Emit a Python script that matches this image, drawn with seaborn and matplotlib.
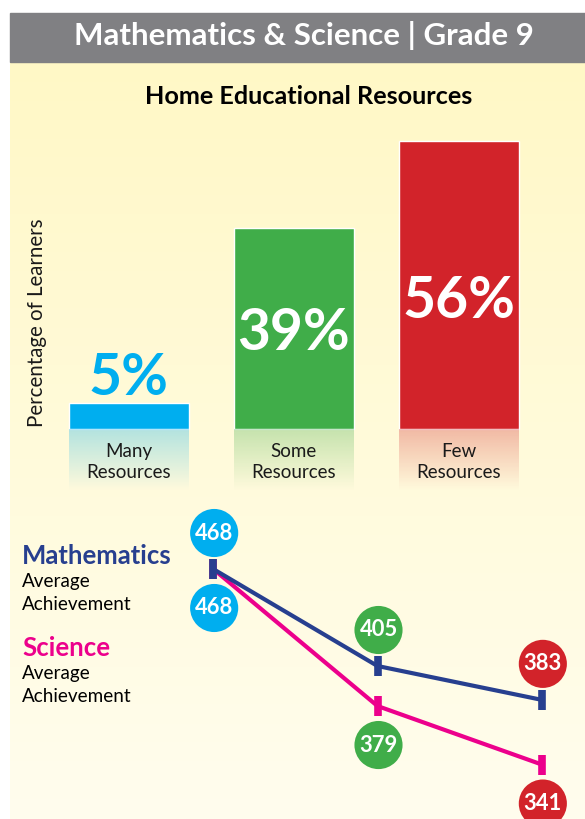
import numpy as np
import seaborn as sns
import matplotlib.pyplot as plt
from matplotlib.patches import Rectangle
from matplotlib.transforms import offset_copy

# data
categories = ["Many\nResources", "Some\nResources", "Few\nResources"]
pct = [5, 39, 56]
math_avg = [468, 405, 383]
sci_avg = [468, 379, 341]

blue, green, red = "#00AEEF", "#40AD49", "#D2232A"
navy, magenta = "#273F8F", "#EC008C"
bar_colors = [blue, green, red]

sns.set_theme(style="white")
plt.rcParams["font.family"] = ["Lato", "DejaVu Sans"]

W, H = 585, 819
fig = plt.figure(figsize=(W / 100, H / 100), dpi=100)
fig.patch.set_facecolor("white")


def box(l, t, r, b):
    return [l / W, 1 - b / H, (r - l) / W, (b - t) / H]


# yellow background with a soft vertical fade
bg = fig.add_axes(box(10, 62, W, H), zorder=-10)
top_c = np.array([255, 248, 198]) / 255
bot_c = np.array([255, 253, 238]) / 255
t = np.linspace(0, 1, 256)[:, None]
grad = top_c[None, :] * (1 - t[..., None]) + bot_c[None, :] * t[..., None]
grad = np.repeat(grad, 2, axis=1)
bg.imshow(grad, aspect="auto", extent=(0, 1, 0, 1))
bg.set_axis_off()

# grey header
fig.patches.append(Rectangle((10 / W, 1 - 62 / H), 575 / W, 49 / H,
                             transform=fig.transFigure, color="#808083", zorder=-5))
fig.text(304 / W, 1 - 36 / H, "Mathematics & Science | Grade 9", color="white",
         fontsize=22.5, fontweight="bold", ha="center", va="center")
fig.text(309 / W, 1 - 97 / H, "Home Educational Resources", color="black",
         fontsize=18.2, fontweight="bold", ha="center", va="center")

# ---- bar chart ----
px_per_pct = 288 / 56
ax1 = fig.add_axes(box(46, 429 - 60 * px_per_pct, 541, 429 + 12 * px_per_pct))
ax1.patch.set_alpha(0)
bw = 120 / 165
sns.barplot(x=list(range(3)), y=pct, hue=list(range(3)), palette=bar_colors,
            legend=False, width=bw, saturation=1, ax=ax1, native_scale=True)

for i, c in enumerate(bar_colors):
    rgba = np.zeros((64, 2, 4))
    rgba[..., :3] = plt.matplotlib.colors.to_rgb(c)
    rgba[..., 3] = np.linspace(0.3, 0.0, 64)[:, None]
    ax1.imshow(rgba, extent=(i - bw / 2, i + bw / 2, -12, 0), aspect="auto", zorder=1)
    ax1.text(i, -6.4, categories[i], ha="center", va="center", fontsize=13.5,
             color="#1a1a1a", linespacing=1.3)

pct_offsets = [25, -105, -160]
pct_colors = [blue, "white", "white"]
for i, v in enumerate(pct):
    ax1.annotate(f"{v}%", (i, v), xytext=(0, pct_offsets[i] * 0.72), textcoords="offset points",
                 ha="center", va="center", fontsize=41, fontweight="bold", color=pct_colors[i])

ax1.set_xlim(-0.5, 2.5)
ax1.set_ylim(-12, 60)
ax1.set_axis_off()
fig.text(37 / W, 1 - 323 / H, "Percentage of Learners", rotation=90, ha="center",
         va="center", fontsize=14.8, color="#1a1a1a")

# ---- achievement lines ----
px_per_pt = 97 / 63
ax2 = fig.add_axes(box(131, 569 - 12 * px_per_pt, 624, 569 + 148 * px_per_pt))
ax2.patch.set_alpha(0)
xs = [0, 1, 2]
sns.lineplot(x=xs, y=sci_avg, color=magenta, lw=3, marker="|", markersize=14,
             markeredgewidth=5.5, markeredgecolor=magenta, ax=ax2)
sns.lineplot(x=xs, y=math_avg, color=navy, lw=3, marker="|", markersize=14,
             markeredgewidth=5.5, markeredgecolor=navy, ax=ax2)

up = offset_copy(ax2.transData, fig=fig, x=1, y=36, units="dots")
down = offset_copy(ax2.transData, fig=fig, x=1, y=-39, units="dots")
for vals, tr in [(math_avg, up), (sci_avg, down)]:
    ax2.scatter(xs, vals, s=1200, c=bar_colors, transform=tr, clip_on=False,
                linewidths=0, zorder=5)
    for x, v in zip(xs, vals):
        ax2.text(x, v, str(v), transform=tr, ha="center", va="center", color="white",
                 fontsize=15.8, fontweight="bold", zorder=6, clip_on=False)

ax2.set_xlim(-0.5, 2.5)
ax2.set_ylim(320, 480)
ax2.set_axis_off()

fig.text(22 / W, 1 - 556 / H, "Mathematics", color=navy, fontsize=18.5, fontweight="bold",
         va="center")
fig.text(22 / W, 1 - 582 / H, "Average", color="black", fontsize=13.6, va="center")
fig.text(22 / W, 1 - 605 / H, "Achievement", color="black", fontsize=13.6, va="center")
fig.text(22 / W, 1 - 648 / H, "Science", color=magenta, fontsize=18.5, fontweight="bold",
         va="center")
fig.text(22 / W, 1 - 674 / H, "Average", color="black", fontsize=13.6, va="center")
fig.text(22 / W, 1 - 697 / H, "Achievement", color="black", fontsize=13.6, va="center")

plt.savefig("out.png", dpi=100)
